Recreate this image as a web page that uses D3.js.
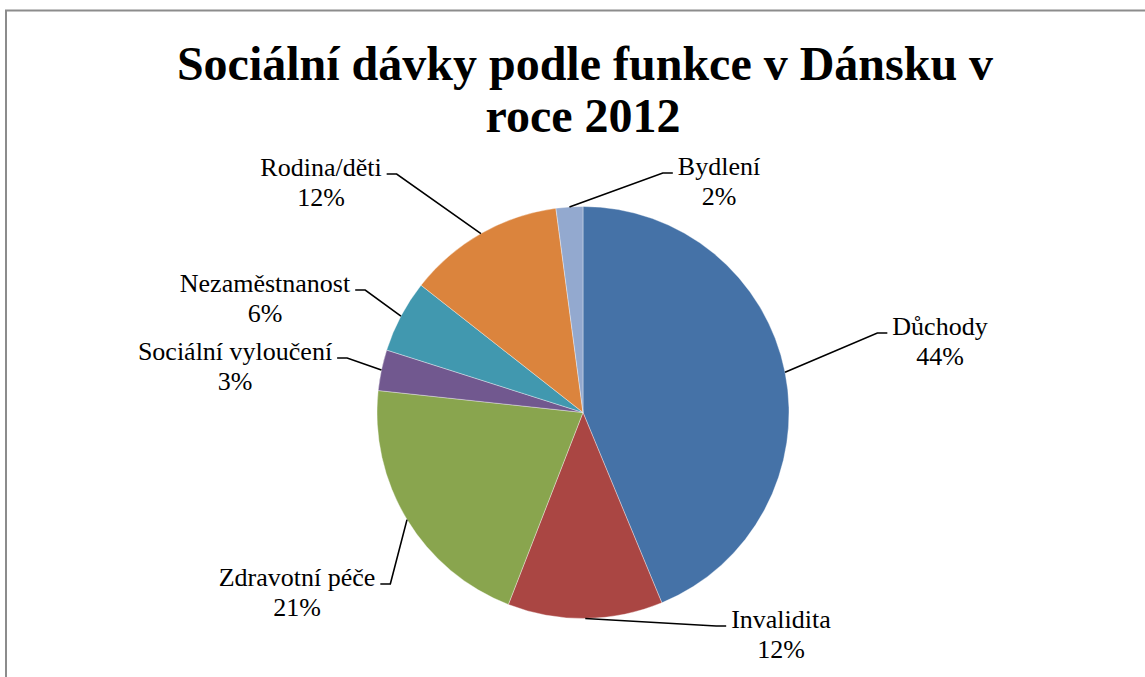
<!DOCTYPE html>
<html>
<head>
<meta charset="utf-8">
<title>Sociální dávky</title>
<script src="https://d3js.org/d3.v7.min.js"></script>
<style>
body { margin: 0; background: #fff; }
text { font-family: "Liberation Serif", "Times New Roman", serif; fill: #000; }
.title { font-weight: bold; font-size: 48px; }
.lbl { font-size: 26px; }
</style>
</head>
<body>
<div id="chart"></div>
<script>
var categories = ["Důchody", "Invalidita", "Zdravotní péče", "Sociální vyloučení", "Nezaměstnanost", "Rodina/děti", "Bydlení"];
var values = [43.75, 12.15, 20.8, 3.2, 5.7, 12.3, 2.1];
var colors = ["#4572A7", "#AA4643", "#89A54E", "#71588F", "#4198AF", "#DB843D", "#93A9CF"];

// label placement (text centre x, first line baseline y) and which side the leader enters from
var labelPos = [
  {x: 940, y: 335, side: 1},
  {x: 781, y: 628, side: 1},
  {x: 297, y: 586, side: -1},
  {x: 235, y: 360, side: -1},
  {x: 265, y: 292, side: -1},
  {x: 321, y: 176, side: -1},
  {x: 719, y: 175, side: 1}
];

var w = 1145, h = 677;
var cx = 583, cy = 412.5, r = 206;

var svg = d3.select("#chart").append("svg")
  .attr("width", w)
  .attr("height", h);

// frame
svg.append("path")
  .attr("d", "M6,677 V10.5 H1145")
  .attr("fill", "none")
  .attr("stroke", "#8c8c8c")
  .attr("stroke-width", 2);

svg.append("text").attr("class", "title")
  .attr("x", 585).attr("y", 80).attr("text-anchor", "middle")
  .text("Sociální dávky podle funkce v Dánsku v");
svg.append("text").attr("class", "title")
  .attr("x", 583).attr("y", 132).attr("text-anchor", "middle")
  .text("roce 2012");

var data = categories.map((c, i) => ({name: c, value: values[i], color: colors[i], pos: labelPos[i]}));

var pie = d3.pie().sort(null).value(d => d.value);
var arc = d3.arc().innerRadius(0).outerRadius(r);
var arcs = pie(data);

var g = svg.append("g").attr("transform", "translate(" + cx + "," + cy + ")");
g.selectAll("path.slice").data(arcs).enter()
  .append("path")
    .attr("class", "slice")
    .attr("d", arc)
    .attr("fill", d => d.data.color)
    .attr("stroke", "#fff")
    .attr("stroke-width", 0.6)
    .attr("stroke-opacity", 0.6);

var leads = svg.selectAll("polyline.lead").data(arcs).enter()
  .append("polyline")
    .attr("class", "lead")
    .attr("fill", "none")
    .attr("stroke", "#000")
    .attr("stroke-width", 1.6);

var lbl = svg.selectAll("text.lbl").data(arcs).enter()
  .append("text")
    .attr("class", "lbl")
    .attr("text-anchor", "middle")
    .attr("x", d => d.data.pos.x)
    .attr("y", d => d.data.pos.y);
lbl.append("tspan").attr("x", d => d.data.pos.x).text(d => d.data.name);
lbl.append("tspan").attr("x", d => d.data.pos.x).attr("dy", 30)
  .text(d => Math.round(d.data.value) + "%");

// leader: from the arc edge at the slice middle to the side of the first label line
leads.attr("points", function(d, i) {
  var tw = lbl.nodes()[i].firstChild.getComputedTextLength();
  var p = d.data.pos;
  var ex = p.x - p.side * (tw / 2 + 5);
  var ey = p.y - 2;
  var a = (d.startAngle + d.endAngle) / 2;
  var sx = cx + r * Math.sin(a), sy = cy - r * Math.cos(a);
  var kx = ex - p.side * 10;
  return [[sx, sy], [kx, ey], [ex, ey]].map(q => q.join(",")).join(" ");
});
</script>
</body>
</html>
